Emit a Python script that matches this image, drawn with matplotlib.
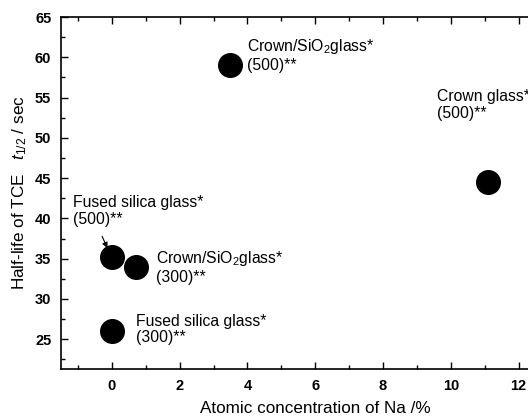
import matplotlib
matplotlib.use("Agg")
import matplotlib.pyplot as plt
from matplotlib.ticker import MultipleLocator

plt.rcParams["font.family"] = ["Liberation Sans", "DejaVu Sans"]
plt.rcParams["mathtext.fontset"] = "custom"
plt.rcParams["mathtext.rm"] = "Liberation Sans"
plt.rcParams["mathtext.it"] = "Liberation Sans:italic"

# data
na_conc = [3.5, 11.1, 0.0, 0.7, 0.0]
half_life = [59.0, 44.5, 35.2, 34.0, 26.0]

labels = [
    "Crown/SiO$_2$glass*\n(500)**",
    "Crown glass*\n(500)**",
    "Fused silica glass*\n(500)**",
    "Crown/SiO$_2$glass*\n(300)**",
    "Fused silica glass*\n(300)**",
]
label_x = [4.0, 9.6, -1.15, 1.3, 0.7]
label_y = [60.3, 54.1, 40.9, 34.0, 26.2]

fig = plt.figure(figsize=(5.28, 4.17), dpi=100)
ax = fig.add_axes([0.1155, 0.115, 0.963, 0.844])

ax.plot(na_conc, half_life, "o", color="black", markersize=17, zorder=3)

for txt, tx, ty in zip(labels, label_x, label_y):
    ax.text(tx, ty, txt, fontsize=11.3, va="center", ha="left", linespacing=1.15)

ax.annotate("", xy=(-0.1, 36.0), xytext=(-0.32, 38.1),
            arrowprops=dict(arrowstyle="-|>", color="black", lw=0.8,
                            mutation_scale=8))

ax.set_xlim(-1.5, 13.5)
ax.set_ylim(21.3, 65)
ax.xaxis.set_major_locator(MultipleLocator(2))
ax.xaxis.set_minor_locator(MultipleLocator(1))
ax.yaxis.set_major_locator(MultipleLocator(5))
ax.yaxis.set_minor_locator(MultipleLocator(2.5))
ax.tick_params(which="both", direction="in", top=True, right=True,
               width=1.0, labelsize=10.5)
ax.tick_params(which="major", length=5, pad=7)
ax.tick_params(which="minor", length=3)
for lab in ax.get_xticklabels() + ax.get_yticklabels():
    lab.set_fontweight("bold")
for s in ax.spines.values():
    s.set_linewidth(1.2)

ax.set_xlabel("Atomic concentration of Na /%", fontsize=12.3, labelpad=6)
ax.set_ylabel("Half-life of TCE   $\\mathit{t}_{1/2}$ / sec", fontsize=12.3, labelpad=4)

fig.savefig("out.png", dpi=100)
